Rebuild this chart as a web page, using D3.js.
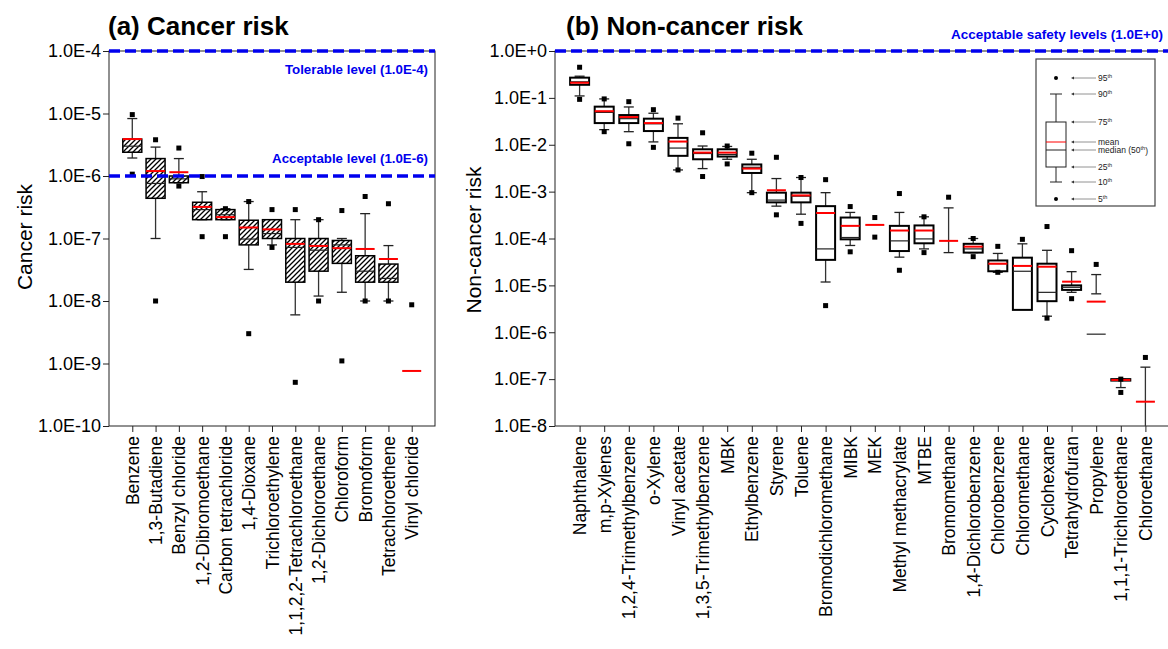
<!DOCTYPE html>
<html lang="en">
<head>
<meta charset="UTF-8">
<script src="https://cdn.jsdelivr.net/npm/d3@7"></script>
<style>
  body { margin: 0; background: #fff; }
  text { font-family: Arial, "Liberation Sans", sans-serif; }
</style>
</head>
<body>
<div id="fig"></div>
<script>
// ---- panel (a) cancer risk, percentiles
const cancerNames = ["Benzene", "1,3-Butadiene", "Benzyl chloride", "1,2-Dibromoethane", "Carbon tetrachloride",
  "1,4-Dioxane", "Trichloroethylene", "1,1,2,2-Tetrachloroethane", "1,2-Dichloroethane", "Chloroform",
  "Bromoform", "Tetrachloroethene", "Vinyl chloride"];
const cancerP5  = [1.07e-6, 1.0e-8, 6.9e-7, 1.07e-7, 1.07e-7, 3.0e-9, 7.2e-8, 5.0e-10, 1.0e-8, 1.1e-9, 1.0e-8, 1.0e-8, null];
const cancerP10 = [1.94e-6, 1.0e-7, 7.8e-7, 2.0e-7, 2.0e-7, 3.2e-8, 7.9e-8, 6.0e-9, 1.2e-8, 1.38e-8, 1.0e-8, 1.0e-8, null];
const cancerP25 = [2.4e-6, 4.4e-7, 7.8e-7, 2.0e-7, 2.0e-7, 7.9e-8, 1.0e-7, 2.0e-8, 3.0e-8, 4.0e-8, 2.0e-8, 2.0e-8, null];
const cancerP50 = [3.0e-6, 7.6e-7, 9.0e-7, 2.9e-7, 2.4e-7, 9.8e-8, 1.2e-7, 7.2e-8, 6.5e-8, 7.9e-8, 3.0e-8, 2.3e-8, null];
const cancerP75 = [3.9e-6, 1.9e-6, 1.0e-6, 3.8e-7, 2.9e-7, 1.96e-7, 2.0e-7, 1.0e-7, 1.0e-7, 9.3e-8, 5.3e-8, 3.9e-8, null];
const cancerP90 = [8.3e-6, 2.9e-6, 1.9e-6, 5.6e-7, 3.0e-7, 3.9e-7, 2.0e-7, 2.0e-7, 2.0e-7, 1.0e-7, 2.5e-7, 7.7e-8, null];
const cancerP95 = [9.6e-6, 3.8e-6, 2.8e-6, 9.8e-7, 3.0e-7, 3.9e-7, 2.9e-7, 2.9e-7, 2.0e-7, 2.8e-7, 4.7e-7, 3.6e-7, 8.7e-9];
const cancerMean = [3.9e-6, 1.2e-6, 1.15e-6, 3.2e-7, 2.2e-7, 1.5e-7, 1.4e-7, 8.2e-8, 7.6e-8, 7.0e-8, 6.8e-8, 4.7e-8, 7.6e-10];

// ---- panel (b) non-cancer risk
const ncNames = ["Naphthalene", "m,p-Xylenes", "1,2,4-Trimethylbenzene", "o-Xylene", "Vinyl acetate",
  "1,3,5-Trimethylbenzene", "MBK", "Ethylbenzene", "Styrene", "Toluene", "Bromodichloromethane", "MIBK",
  "MEK", "Methyl methacrylate", "MTBE", "Bromomethane", "1,4-Dichlorobenzene", "Chlorobenzene",
  "Chloromethane", "Cyclohexane", "Tetrahydrofuran", "Propylene", "1,1,1-Trichloroethane", "Chloroethane"];
const ncP5  = [0.093, 0.019, 0.0105, 0.0088, 0.0029, 0.0021, 0.0039, 0.00095, 0.00032, 0.00021, 3.7e-6, 5.2e-5,
  0.000107, 2.1e-5, 5.0e-5, null, 4.1e-5, 1.9e-5, null, 2.0e-6, 5.2e-6, null, 5.2e-8, null];
const ncP10 = [0.11, 0.021, 0.019, 0.0115, 0.0029, 0.0031, 0.0049, 0.00095, 0.00049, 0.00033, 1.18e-5, 7.1e-5,
  null, 4.0e-5, 6.0e-5, 5.0e-5, 5.0e-5, 1.9e-5, null, 2.2e-6, 7.1e-6, 6.6e-6, 6.6e-8, 1.0e-8];
const ncP25 = [0.19, 0.029, 0.029, 0.0196, 0.0058, 0.0049, 0.0056, 0.0025, 0.00059, 0.00059, 3.5e-5, 9.6e-5,
  null, 5.4e-5, 7.9e-5, null, 5.0e-5, 2.0e-5, 3.0e-6, 4.6e-6, 8.0e-6, null, 9.3e-8, null];
const ncP50 = [0.22, 0.049, 0.036, 0.028, 0.0085, 0.0065, 0.0062, 0.0033, 0.00066, 0.0008, 6.0e-5, 0.000105,
  null, 8.9e-5, 9.8e-5, null, 6.0e-5, 2.9e-5, 2.0e-5, 7.1e-6, 9.1e-6, 9.1e-7, 9.6e-8, null];
const ncP75 = [0.27, 0.065, 0.043, 0.036, 0.014, 0.008, 0.008, 0.0038, 0.00095, 0.00095, 0.00049, 0.00028,
  null, 0.000186, 0.00019, null, 7.7e-5, 3.4e-5, 3.9e-5, 2.9e-5, 1.0e-5, null, 1.0e-7, null];
const ncP90 = [0.29, 0.095, 0.064, 0.047, 0.028, 0.0094, 0.0092, 0.0049, 0.0019, 0.002, 0.00095, 0.00036,
  null, 0.00036, 0.00029, 0.00045, 0.0001, 4.8e-5, 7.7e-5, 5.6e-5, 1.96e-5, 1.7e-5, 1.0e-7, 1.8e-7];
const ncP95 = [0.45, 0.095, 0.083, 0.056, 0.037, 0.018, 0.0094, 0.0066, 0.0054, 0.002, 0.0018, 0.00048,
  0.00028, 0.00091, 0.00029, 0.00076, 0.0001, 6.8e-5, 9.6e-5, 0.00018, 5.5e-5, 2.8e-5, 1.0e-7, 2.9e-7];
const ncMean = [0.21, 0.052, 0.039, 0.029, 0.0117, 0.0068, 0.0068, 0.0031, 0.00107, 0.00083, 0.00035, 0.000186,
  0.000195, 0.000148, 0.000148, 8.9e-5, 6.7e-5, 2.9e-5, 2.6e-5, 2.5e-5, 1.2e-5, 4.5e-6, 9.6e-8, 3.3e-8];

const legendLabels = ["95th", "90th", "75th", "mean", "median (50th)", "25th", "10th", "5th"];

const width = 1168, height = 649;
const svg = d3.select("#fig").append("svg").attr("width", width).attr("height", height);

const defs = svg.append("defs");
const pat = defs.append("pattern").attr("id", "hatch")
  .attr("patternUnits", "userSpaceOnUse").attr("width", 5).attr("height", 5);
pat.append("rect").attr("width", 5).attr("height", 5).attr("fill", "#fff");
pat.append("path").attr("d", "M-1,1 l2,-2 M0,5 l5,-5 M4,6 l2,-2")
  .attr("stroke", "#000").attr("stroke-width", 1.3);

const expFmt = v => {
  const e = Math.round(Math.log10(v));
  return "1.0E" + (e >= 0 ? "+" : "") + e;
};

function rows(names, p5, p10, p25, p50, p75, p90, p95, mean) {
  return names.map((n, i) => ({name: n, i: i, p5: p5[i], p10: p10[i], p25: p25[i], p50: p50[i],
    p75: p75[i], p90: p90[i], p95: p95[i], mean: mean[i]}));
}

function panel(opts) {
  const {data, x, y, left, right, top, bottom, boxFill, boxStroke, decades} = opts;
  const g = svg.append("g");

  // frame
  g.append("rect").attr("x", left).attr("y", top).attr("width", right - left).attr("height", bottom - top)
    .attr("fill", "none").attr("stroke", "#222").attr("stroke-width", 1);

  // y axis
  const yAxis = d3.axisLeft(y).tickValues(decades).tickFormat(expFmt).tickSize(6).tickSizeOuter(0);
  const ya = g.append("g").attr("transform", `translate(${left},0)`).call(yAxis);
  ya.select(".domain").remove();
  ya.selectAll("line").attr("stroke", "#222");
  ya.selectAll("text").attr("font-size", 18).attr("fill", "#000").attr("x", -8);

  // x axis
  const xAxis = d3.axisBottom(x).tickValues(data.map(d => d.i + 1))
    .tickFormat(v => data[v - 1].name).tickSize(6).tickSizeOuter(0);
  const xa = g.append("g").attr("transform", `translate(0,${bottom})`).call(xAxis);
  xa.select(".domain").remove();
  xa.selectAll("line").attr("stroke", "#222");
  xa.selectAll("text").attr("font-size", 17.5).attr("fill", "#000")
    .attr("transform", "rotate(-90)").attr("x", -10).attr("y", 0).attr("dy", "0.35em")
    .style("text-anchor", "end");

  const hw = 9.5;
  const items = g.selectAll(".item").data(data).join("g").attr("class", "item");

  // whiskers
  items.filter(d => d.p90 != null && d.p75 != null && d.p90 > d.p75).append("line")
    .attr("x1", d => x(d.i + 1)).attr("x2", d => x(d.i + 1))
    .attr("y1", d => y(d.p90)).attr("y2", d => y(d.p75)).attr("stroke", "#333").attr("stroke-width", 1.3);
  items.filter(d => d.p10 != null && d.p25 != null && d.p10 < d.p25).append("line")
    .attr("x1", d => x(d.i + 1)).attr("x2", d => x(d.i + 1))
    .attr("y1", d => y(d.p25)).attr("y2", d => y(d.p10)).attr("stroke", "#333").attr("stroke-width", 1.3);
  // no box: plain whisker between 90th and 10th
  items.filter(d => d.p25 == null && d.p90 != null && d.p10 != null).append("line")
    .attr("x1", d => x(d.i + 1)).attr("x2", d => x(d.i + 1))
    .attr("y1", d => y(d.p90)).attr("y2", d => y(d.p10)).attr("stroke", "#333").attr("stroke-width", 1.3);
  // caps
  items.filter(d => d.p90 != null).append("line")
    .attr("x1", d => x(d.i + 1) - 5).attr("x2", d => x(d.i + 1) + 5)
    .attr("y1", d => y(d.p90)).attr("y2", d => y(d.p90)).attr("stroke", "#222").attr("stroke-width", 1.3);
  items.filter(d => d.p10 != null && d.p10 > y.domain()[0]).append("line")
    .attr("x1", d => x(d.i + 1) - 5).attr("x2", d => x(d.i + 1) + 5)
    .attr("y1", d => y(d.p10)).attr("y2", d => y(d.p10)).attr("stroke", "#222").attr("stroke-width", 1.3);

  // box
  items.filter(d => d.p25 != null && d.p75 != null).append("rect")
    .attr("x", d => x(d.i + 1) - hw).attr("width", hw * 2)
    .attr("y", d => y(d.p75)).attr("height", d => Math.max(1, y(d.p25) - y(d.p75)))
    .attr("fill", boxFill).attr("stroke", "#000").attr("stroke-width", boxStroke);

  // median
  items.filter(d => d.p50 != null).append("line")
    .attr("x1", d => x(d.i + 1) - hw).attr("x2", d => x(d.i + 1) + hw)
    .attr("y1", d => y(d.p50)).attr("y2", d => y(d.p50)).attr("stroke", "#222").attr("stroke-width", 1.2);

  // mean
  items.filter(d => d.mean != null).append("line")
    .attr("x1", d => x(d.i + 1) - hw).attr("x2", d => x(d.i + 1) + hw)
    .attr("y1", d => y(d.mean)).attr("y2", d => y(d.mean)).attr("stroke", "#ff0000").attr("stroke-width", 2);

  // 5th / 95th points
  ["p5", "p95"].forEach(k => {
    items.filter(d => d[k] != null).append("rect")
      .attr("x", d => x(d.i + 1) - 2.5).attr("y", d => y(d[k]) - 2.5)
      .attr("width", 5).attr("height", 5).attr("fill", "#000");
  });
  return g;
}

// ---------- panel (a)
const xA = d3.scaleLinear().domain([0, 14]).range([109, 435]);
const yA = d3.scaleLog().domain([1e-10, 1e-4]).range([426, 51]);
const gA = panel({
  data: rows(cancerNames, cancerP5, cancerP10, cancerP25, cancerP50, cancerP75, cancerP90, cancerP95, cancerMean),
  x: xA, y: yA, left: 109, right: 435, top: 51, bottom: 426, boxFill: "url(#hatch)", boxStroke: 1.5,
  decades: [1e-10, 1e-9, 1e-8, 1e-7, 1e-6, 1e-5, 1e-4]
});
[1e-4, 1e-6].forEach(v => {
  gA.append("line").attr("x1", 109).attr("x2", 435).attr("y1", yA(v)).attr("y2", yA(v))
    .attr("stroke", "#0000ee").attr("stroke-width", 3.5).attr("stroke-dasharray", "11,5");
});
gA.append("text").attr("x", 428).attr("y", 74).attr("text-anchor", "end")
  .attr("font-size", 13.3).attr("font-weight", "bold").attr("fill", "#0000ee").text("Tolerable level (1.0E-4)");
gA.append("text").attr("x", 428).attr("y", 163).attr("text-anchor", "end")
  .attr("font-size", 13.3).attr("font-weight", "bold").attr("fill", "#0000ee").text("Acceptable level (1.0E-6)");
gA.append("text").attr("x", 108).attr("y", 35).attr("font-size", 26).attr("font-weight", "bold").text("(a) Cancer risk");
gA.append("text").attr("transform", "translate(32,237) rotate(-90)").attr("text-anchor", "middle")
  .attr("font-size", 21).text("Cancer risk");

// ---------- panel (b)
const xB = d3.scaleLinear().domain([0, 25]).range([555, 1170]);
const yB = d3.scaleLog().domain([1e-8, 1]).range([426, 51]);
const gB = panel({
  data: rows(ncNames, ncP5, ncP10, ncP25, ncP50, ncP75, ncP90, ncP95, ncMean),
  x: xB, y: yB, left: 555, right: 1170, top: 51, bottom: 426, boxFill: "#fff", boxStroke: 2,
  decades: [1e-8, 1e-7, 1e-6, 1e-5, 1e-4, 1e-3, 1e-2, 1e-1, 1]
});
gB.append("line").attr("x1", 555).attr("x2", 1168).attr("y1", yB(1)).attr("y2", yB(1))
  .attr("stroke", "#0000ee").attr("stroke-width", 3.5).attr("stroke-dasharray", "11,5");
gB.append("text").attr("x", 1163).attr("y", 39).attr("text-anchor", "end")
  .attr("font-size", 13.5).attr("font-weight", "bold").attr("fill", "#0000ee").text("Acceptable safety levels (1.0E+0)");
gB.append("text").attr("x", 566).attr("y", 35).attr("font-size", 26).attr("font-weight", "bold").text("(b) Non-cancer risk");
gB.append("text").attr("transform", "translate(481,240) rotate(-90)").attr("text-anchor", "middle")
  .attr("font-size", 21).text("Non-cancer risk");

// ---------- legend key
const lg = svg.append("g");
lg.append("rect").attr("x", 1036).attr("y", 59).attr("width", 119).attr("height", 147)
  .attr("fill", "#fff").attr("stroke", "#444").attr("stroke-width", 1.2);
const ly = [78, 94, 122, 142, 150, 167, 182, 199];
const lc = 1056;
lg.append("line").attr("x1", lc).attr("x2", lc).attr("y1", ly[1]).attr("y2", ly[6]).attr("stroke", "#222");
lg.append("rect").attr("x", lc - 10).attr("y", ly[2]).attr("width", 20).attr("height", ly[5] - ly[2])
  .attr("fill", "#fff").attr("stroke", "#222");
[1, 6].forEach(k => lg.append("line").attr("x1", lc - 6).attr("x2", lc + 6).attr("y1", ly[k]).attr("y2", ly[k]).attr("stroke", "#222"));
lg.append("line").attr("x1", lc - 10).attr("x2", lc + 10).attr("y1", ly[3]).attr("y2", ly[3]).attr("stroke", "#ff0000");
lg.append("line").attr("x1", lc - 10).attr("x2", lc + 10).attr("y1", ly[4]).attr("y2", ly[4]).attr("stroke", "#222");
[0, 7].forEach(k => lg.append("circle").attr("cx", lc).attr("cy", ly[k]).attr("r", 2).attr("fill", "#000"));
legendLabels.forEach((t, k) => {
  lg.append("line").attr("x1", 1073).attr("x2", 1096).attr("y1", ly[k]).attr("y2", ly[k])
    .attr("stroke", "#777").attr("stroke-width", 0.8);
  lg.append("path").attr("d", `M1071,${ly[k]} l3,-1.5 v3 z`).attr("fill", "#333");
  const tx = lg.append("text").attr("x", 1098).attr("y", ly[k]).attr("dy", "0.35em")
    .attr("font-size", 8.5).attr("fill", "#222");
  const m = t.match(/^(.*?)(\d+)th(\)?)$/);
  if (m) {
    tx.append("tspan").text(m[1] + m[2]);
    tx.append("tspan").attr("font-size", 5.5).attr("dy", "-0.6em").text("th");
    if (m[3]) tx.append("tspan").attr("dy", "0.45em").text(m[3]);
  } else {
    tx.text(t);
  }
});
</script>
</body>
</html>
